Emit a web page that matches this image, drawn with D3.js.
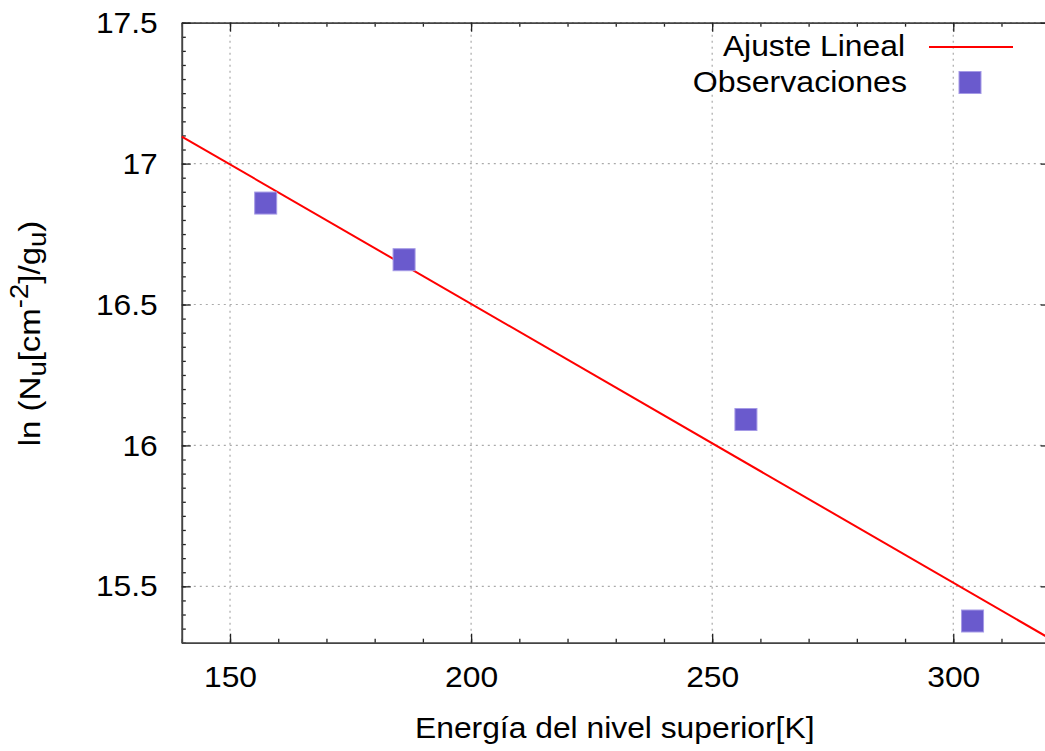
<!DOCTYPE html>
<html>
<head>
<meta charset="utf-8">
<script src="https://cdn.jsdelivr.net/npm/d3@7"></script>
<style>
  body { margin: 0; background: #fff; }
  text { font-family: "Liberation Sans", Arial, sans-serif; fill: #000; }
</style>
</head>
<body>
<svg id="chart" width="1045" height="751"></svg>
<script>
// observaciones
const obsEnergy = [157.4, 186.1, 257.0, 304.0];
const obsLnN = [16.86, 16.659, 16.092, 15.377];

// ajuste lineal (extremos)
const fitEnergy = [140, 320];
const fitLnN = [17.096, 15.315];

const xTicks = [150, 200, 250, 300];
const yTicks = [15.5, 16, 16.5, 17, 17.5];

const svg = d3.select('#chart');
const plotLeft = 181.8, plotRight = 1049.7, plotTop = 22.7, plotBottom = 642.7;
const fontSize = '30px';

const x = d3.scaleLinear().domain([140, 320]).range([plotLeft, plotRight]);
const y = d3.scaleLinear().domain([15.3, 17.5]).range([plotBottom, plotTop]);

const xMinor = d3.range(140, 321, 10);
const yMinor = d3.range(15.3, 17.501, 0.05);

// the original font runs a little wider than Liberation Sans
function widen(sel, k) {
    sel.each(function () {
        const w = this.getComputedTextLength();
        d3.select(this).attr('textLength', w * k).attr('lengthAdjust', 'spacingAndGlyphs');
    });
}

// grid
const grid = svg.append('g')
    .attr('stroke', '#aaa')
    .attr('stroke-width', 1.2)
    .attr('stroke-dasharray', '2,4');
grid.selectAll('.gx').data(xTicks).enter()
    .append('line')
    .attr('x1', (d) => x(d)).attr('x2', (d) => x(d))
    .attr('y1', plotTop).attr('y2', plotBottom);
grid.selectAll('.gy').data(yTicks).enter()
    .append('line')
    .attr('x1', plotLeft).attr('x2', plotRight)
    .attr('y1', (d) => y(d)).attr('y2', (d) => y(d));

function styleAxis(g) {
    g.select('.domain').attr('stroke', '#444').attr('stroke-width', 1.6);
    g.selectAll('.tick line').attr('stroke', '#222').attr('stroke-width', 1.3);
    g.selectAll('text').style('font-size', fontSize)
        .style('font-family', '"Liberation Sans", Arial, sans-serif').attr('fill', '#000')
        .call(widen, 1.06);
}

// minor ticks
svg.append('g').attr('transform', `translate(0,${plotBottom})`)
    .call(d3.axisBottom(x).tickValues(xMinor).tickSize(-4).tickFormat('').tickSizeOuter(0))
    .call(styleAxis);
svg.append('g').attr('transform', `translate(0,${plotTop})`)
    .call(d3.axisTop(x).tickValues(xMinor).tickSize(-4).tickFormat('').tickSizeOuter(0))
    .call(styleAxis);
svg.append('g').attr('transform', `translate(${plotLeft},0)`)
    .call(d3.axisLeft(y).tickValues(yMinor).tickSize(-4).tickFormat('').tickSizeOuter(0))
    .call(styleAxis);
svg.append('g').attr('transform', `translate(${plotRight},0)`)
    .call(d3.axisRight(y).tickValues(yMinor).tickSize(-4).tickFormat('').tickSizeOuter(0))
    .call(styleAxis);

// major ticks
svg.append('g').attr('transform', `translate(0,${plotBottom})`)
    .call(d3.axisBottom(x).tickValues(xTicks).tickSize(-9).tickPadding(23).tickSizeOuter(0))
    .call(styleAxis);
svg.append('g').attr('transform', `translate(0,${plotTop})`)
    .call(d3.axisTop(x).tickValues(xTicks).tickSize(-9).tickFormat('').tickSizeOuter(0))
    .call(styleAxis);
svg.append('g').attr('transform', `translate(${plotLeft},0)`)
    .call(d3.axisLeft(y).tickValues(yTicks).tickSize(-9).tickPadding(24).tickFormat(d3.format('')).tickSizeOuter(0))
    .call(styleAxis);
svg.append('g').attr('transform', `translate(${plotRight},0)`)
    .call(d3.axisRight(y).tickValues(yTicks).tickSize(-9).tickFormat('').tickSizeOuter(0))
    .call(styleAxis);

// fit line
const line = d3.line().x((d) => x(d[0])).y((d) => y(d[1]));
svg.append('path')
    .datum(d3.zip(fitEnergy, fitLnN))
    .attr('d', line)
    .attr('fill', 'none')
    .attr('stroke', '#ff0000')
    .attr('stroke-width', 2);

// observations
const sq = 22;
svg.selectAll('.obs').data(d3.zip(obsEnergy, obsLnN)).enter()
    .append('rect')
    .attr('class', 'obs')
    .attr('x', (d) => x(d[0]) - sq / 2)
    .attr('y', (d) => y(d[1]) - sq / 2)
    .attr('width', sq).attr('height', sq)
    .attr('fill', '#6a5acd')
    .attr('stroke', '#a59ae6')
    .attr('stroke-width', 1);

// legend
const legend = svg.append('g').style('font-size', fontSize);
legend.append('text').attr('x', 905).attr('y', 56).attr('text-anchor', 'end').text('Ajuste Lineal')
    .call(widen, 1.06);
legend.append('line').attr('x1', 929).attr('x2', 1013).attr('y1', 47).attr('y2', 47)
    .attr('stroke', '#ff0000').attr('stroke-width', 2);
legend.append('text').attr('x', 907).attr('y', 92).attr('text-anchor', 'end').text('Observaciones')
    .call(widen, 1.07);
legend.append('rect').attr('x', 970 - sq / 2).attr('y', 82.5 - sq / 2).attr('width', sq).attr('height', sq)
    .attr('fill', '#6a5acd').attr('stroke', '#a59ae6').attr('stroke-width', 1);

// axis titles
svg.append('text')
    .attr('x', (plotLeft + plotRight) / 2 - 1).attr('y', 738)
    .attr('text-anchor', 'middle')
    .style('font-size', fontSize)
    .text('Energía del nivel superior[K]')
    .call(widen, 1.06);

const yTitle = svg.append('text')
    .attr('transform', 'translate(40,333.5) rotate(-90)')
    .attr('text-anchor', 'middle')
    .style('font-size', fontSize);
yTitle.append('tspan').text('ln (N');
yTitle.append('tspan').attr('dy', 6).style('font-size', '25px').text('u');
yTitle.append('tspan').attr('dy', -6).text('[cm');
yTitle.append('tspan').attr('dy', -12).style('font-size', '25px').text('-2');
yTitle.append('tspan').attr('dy', 12).text(']/g');
yTitle.append('tspan').attr('dy', 6).style('font-size', '25px').text('u');
yTitle.append('tspan').attr('dy', -6).text(')');
yTitle.call(widen, 1.1);
</script>
</body>
</html>
